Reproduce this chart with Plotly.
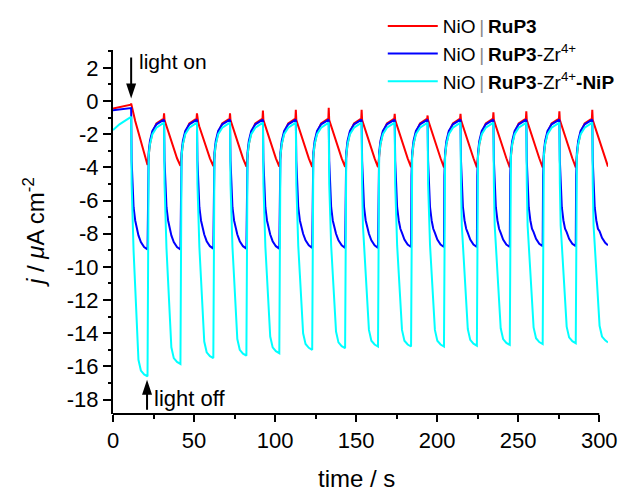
import plotly.graph_objects as go

# Chopped-light chronoamperometry: photocurrent density vs time
time_s = [
    0.0, 4.0, 8.0, 11.0,
    11.2, 11.5, 12.0, 12.7, 13.7, 14.7, 15.7, 17.2, 19.2, 21.3, 21.55, 22.0, 22.8, 24.3, 26.8, 31.25,
    31.5, 31.8, 32.3, 33.0, 34.0, 35.0, 36.0, 37.5, 39.5, 41.6, 41.85, 42.3, 43.1, 44.6, 47.1, 51.55,
    51.8, 52.1, 52.6, 53.3, 54.3, 55.3, 56.3, 57.8, 59.8, 61.9, 62.15, 62.6, 63.4, 64.9, 67.4, 71.95,
    72.2, 72.5, 73.0, 73.7, 74.7, 75.7, 76.7, 78.2, 80.2, 82.3, 82.55, 83.0, 83.8, 85.3, 87.8, 92.25,
    92.5, 92.8, 93.3, 94.0, 95.0, 96.0, 97.0, 98.5, 100.5, 102.6, 102.85, 103.3, 104.1, 105.6, 108.1, 112.55,
    112.8, 113.1, 113.6, 114.3, 115.3, 116.3, 117.3, 118.8, 120.8, 122.9, 123.15, 123.6, 124.4, 125.9, 128.4, 132.85,
    133.1, 133.4, 133.9, 134.6, 135.6, 136.6, 137.6, 139.1, 141.1, 143.2, 143.45, 143.9, 144.7, 146.2, 148.7, 153.15,
    153.4, 153.7, 154.2, 154.9, 155.9, 156.9, 157.9, 159.4, 161.4, 163.5, 163.75, 164.2, 165.0, 166.5, 169.0, 173.55,
    173.8, 174.1, 174.6, 175.3, 176.3, 177.3, 178.3, 179.8, 181.8, 183.9, 184.15, 184.6, 185.4, 186.9, 189.4, 193.85,
    194.1, 194.4, 194.9, 195.6, 196.6, 197.6, 198.6, 200.1, 202.1, 204.2, 204.45, 204.9, 205.7, 207.2, 209.7, 214.15,
    214.4, 214.7, 215.2, 215.9, 216.9, 217.9, 218.9, 220.4, 222.4, 224.5, 224.75, 225.2, 226.0, 227.5, 230.0, 234.45,
    234.7, 235.0, 235.5, 236.2, 237.2, 238.2, 239.2, 240.7, 242.7, 244.8, 245.05, 245.5, 246.3, 247.8, 250.3, 254.75,
    255.0, 255.3, 255.8, 256.5, 257.5, 258.5, 259.5, 261.0, 263.0, 265.1, 265.35, 265.8, 266.6, 268.1, 270.6, 275.15,
    275.4, 275.7, 276.2, 276.9, 277.9, 278.9, 279.9, 281.4, 283.4, 285.5, 285.75, 286.2, 287.0, 288.5, 291.0, 295.45,
    295.7, 296.0, 296.5, 297.2, 298.2, 299.2, 300.2, 301.7, 303.7, 305.4,
]

# NiO | RuP3
j_rup3 = [
    -0.45, -0.38, -0.3, -0.22,
    -0.15, -0.3, -0.5, -0.8, -1.2, -1.55, -1.9, -2.5, -3.2, -3.85, -3.7, -3.3, -2.6, -1.9, -1.35, -1.05,
    -0.74, -1.15, -1.3, -1.55, -1.85, -2.2, -2.5, -2.95, -3.45, -3.9, -3.75, -3.3, -2.6, -1.9, -1.35, -1.05,
    -0.74, -1.15, -1.3, -1.55, -1.85, -2.2, -2.5, -2.95, -3.45, -3.92, -3.75, -3.3, -2.6, -1.9, -1.35, -1.05,
    -0.74, -1.15, -1.3, -1.55, -1.85, -2.2, -2.5, -2.95, -3.45, -3.95, -3.75, -3.3, -2.6, -1.9, -1.35, -1.05,
    -0.57, -1.15, -1.3, -1.55, -1.85, -2.2, -2.5, -2.95, -3.45, -3.95, -3.75, -3.3, -2.6, -1.9, -1.35, -1.05,
    -0.53, -1.15, -1.3, -1.55, -1.85, -2.2, -2.5, -2.95, -3.45, -3.97, -3.75, -3.3, -2.6, -1.9, -1.35, -1.05,
    -0.41, -1.15, -1.3, -1.55, -1.85, -2.2, -2.5, -2.95, -3.45, -3.97, -3.75, -3.3, -2.6, -1.9, -1.35, -1.05,
    -0.53, -1.15, -1.3, -1.55, -1.85, -2.2, -2.5, -2.95, -3.45, -3.98, -3.75, -3.3, -2.6, -1.9, -1.35, -1.05,
    -0.77, -1.15, -1.3, -1.55, -1.85, -2.2, -2.5, -2.95, -3.45, -3.98, -3.75, -3.3, -2.6, -1.9, -1.35, -1.05,
    -0.87, -1.15, -1.3, -1.55, -1.85, -2.2, -2.5, -2.95, -3.45, -4.0, -3.75, -3.3, -2.6, -1.9, -1.35, -1.05,
    -0.77, -1.15, -1.3, -1.55, -1.85, -2.2, -2.5, -2.95, -3.45, -4.0, -3.75, -3.3, -2.6, -1.9, -1.35, -1.05,
    -0.67, -1.15, -1.3, -1.55, -1.85, -2.2, -2.5, -2.95, -3.45, -4.0, -3.75, -3.3, -2.6, -1.9, -1.35, -1.05,
    -0.61, -1.15, -1.3, -1.55, -1.85, -2.2, -2.5, -2.95, -3.45, -4.0, -3.75, -3.3, -2.6, -1.9, -1.35, -1.05,
    -0.61, -1.15, -1.3, -1.55, -1.85, -2.2, -2.5, -2.95, -3.45, -4.0, -3.75, -3.3, -2.6, -1.9, -1.35, -1.05,
    -0.53, -1.15, -1.3, -1.55, -1.85, -2.2, -2.5, -2.95, -3.45, -3.95,
]

# NiO | RuP3-Zr4+
j_rup3_zr = [
    -0.55, -0.5, -0.46, -0.43,
    -0.42, -3.6, -5.3, -6.4, -7.2, -7.7, -8.1, -8.5, -8.8, -8.95, -4.5, -3.1, -2.4, -1.8, -1.4, -1.15,
    -1.12, -3.6, -5.3, -6.4, -7.2, -7.7, -8.1, -8.5, -8.8, -8.95, -4.5, -3.1, -2.4, -1.8, -1.4, -1.15,
    -1.12, -3.6, -5.3, -6.4, -7.2, -7.7, -8.05, -8.45, -8.75, -8.9, -4.5, -3.1, -2.4, -1.8, -1.4, -1.15,
    -1.12, -3.6, -5.3, -6.4, -7.2, -7.7, -8.05, -8.45, -8.75, -8.9, -4.5, -3.1, -2.4, -1.8, -1.4, -1.15,
    -1.12, -3.6, -5.3, -6.4, -7.2, -7.7, -8.05, -8.45, -8.75, -8.9, -4.5, -3.1, -2.4, -1.8, -1.4, -1.15,
    -1.12, -3.6, -5.3, -6.4, -7.2, -7.7, -8.0, -8.4, -8.7, -8.85, -4.5, -3.1, -2.4, -1.8, -1.4, -1.15,
    -1.12, -3.6, -5.3, -6.4, -7.2, -7.7, -8.0, -8.4, -8.7, -8.85, -4.5, -3.1, -2.4, -1.8, -1.4, -1.15,
    -1.12, -3.6, -5.3, -6.4, -7.2, -7.7, -8.0, -8.4, -8.7, -8.85, -4.5, -3.1, -2.4, -1.8, -1.4, -1.15,
    -1.12, -3.6, -5.3, -6.4, -7.2, -7.7, -7.95, -8.35, -8.65, -8.8, -4.5, -3.1, -2.4, -1.8, -1.4, -1.15,
    -1.12, -3.6, -5.3, -6.4, -7.2, -7.7, -7.95, -8.35, -8.65, -8.8, -4.5, -3.1, -2.4, -1.8, -1.4, -1.15,
    -1.12, -3.6, -5.3, -6.4, -7.2, -7.7, -7.95, -8.35, -8.65, -8.8, -4.5, -3.1, -2.4, -1.8, -1.4, -1.15,
    -1.12, -3.6, -5.3, -6.4, -7.2, -7.7, -7.95, -8.35, -8.65, -8.8, -4.5, -3.1, -2.4, -1.8, -1.4, -1.15,
    -1.12, -3.6, -5.3, -6.4, -7.2, -7.7, -7.9, -8.3, -8.6, -8.75, -4.5, -3.1, -2.4, -1.8, -1.4, -1.15,
    -1.12, -3.6, -5.3, -6.4, -7.2, -7.7, -7.9, -8.3, -8.6, -8.75, -4.5, -3.1, -2.4, -1.8, -1.4, -1.15,
    -1.12, -3.6, -5.3, -6.4, -7.2, -7.7, -7.85, -8.25, -8.55, -8.7,
]

# NiO | RuP3-Zr4+-NiP
j_rup3_zr_nip = [
    -1.75, -1.4, -1.15, -0.97,
    -0.95, -5.0, -7.5, -9.03, -11.22, -13.41, -15.6, -16.25, -16.48, -16.6, -4.8, -3.3, -2.6, -2.0, -1.6, -1.32,
    -1.3, -5.0, -7.5, -8.89, -10.87, -12.87, -14.85, -15.5, -15.73, -15.85, -4.8, -3.3, -2.6, -2.0, -1.6, -1.32,
    -1.3, -5.0, -7.5, -8.82, -10.71, -12.61, -14.5, -15.15, -15.38, -15.5, -4.8, -3.3, -2.6, -2.0, -1.6, -1.32,
    -1.3, -5.0, -7.5, -8.79, -10.64, -12.5, -14.35, -15.0, -15.23, -15.35, -4.8, -3.3, -2.6, -2.0, -1.6, -1.32,
    -1.3, -5.0, -7.5, -8.77, -10.58, -12.39, -14.2, -14.85, -15.08, -15.2, -4.8, -3.3, -2.6, -2.0, -1.6, -1.32,
    -1.3, -5.0, -7.5, -8.73, -10.48, -12.25, -14.0, -14.65, -14.88, -15.0, -4.8, -3.3, -2.6, -2.0, -1.6, -1.32,
    -1.3, -5.0, -7.5, -8.71, -10.44, -12.17, -13.9, -14.55, -14.78, -14.9, -4.8, -3.3, -2.6, -2.0, -1.6, -1.32,
    -1.3, -5.0, -7.5, -8.69, -10.39, -12.1, -13.8, -14.45, -14.68, -14.8, -4.8, -3.3, -2.6, -2.0, -1.6, -1.32,
    -1.3, -5.0, -7.5, -8.69, -10.39, -12.1, -13.8, -14.45, -14.68, -14.8, -4.8, -3.3, -2.6, -2.0, -1.6, -1.32,
    -1.3, -5.0, -7.5, -8.69, -10.39, -12.1, -13.8, -14.45, -14.68, -14.8, -4.8, -3.3, -2.6, -2.0, -1.6, -1.32,
    -1.3, -5.0, -7.5, -8.68, -10.37, -12.06, -13.75, -14.4, -14.63, -14.75, -4.8, -3.3, -2.6, -2.0, -1.6, -1.32,
    -1.3, -5.0, -7.5, -8.67, -10.35, -12.03, -13.7, -14.35, -14.58, -14.7, -4.8, -3.3, -2.6, -2.0, -1.6, -1.32,
    -1.3, -5.0, -7.5, -8.66, -10.32, -11.99, -13.65, -14.3, -14.53, -14.65, -4.8, -3.3, -2.6, -2.0, -1.6, -1.32,
    -1.3, -5.0, -7.5, -8.65, -10.3, -11.95, -13.6, -14.25, -14.48, -14.6, -4.8, -3.3, -2.6, -2.0, -1.6, -1.32,
    -1.3, -5.0, -7.5, -8.64, -10.28, -11.92, -13.55, -14.2, -14.43, -14.55,
]

SEP = "\u2009<span style='color:#8a8a8a'>|</span>\u2009"
series_names = [
    "NiO" + SEP + "<b>RuP3</b>",
    "NiO" + SEP + "<b>RuP3</b>-Zr<sup>4+</sup>",
    "NiO" + SEP + "<b>RuP3</b>-Zr<sup>4+</sup><b>-NiP</b>",
]
series_colors = ["#ff0000", "#0000ff", "#00ffff"]

y_major = [-18, -16, -14, -12, -10, -8, -6, -4, -2, 0, 2]
y_major_text = ["-18", "-16", "-14", "-12", "-10", "-8", "-6", "-4", "-2", "0", "2"]
y_minor = [-17, -15, -13, -11, -9, -7, -5, -3, -1, 1, 3]
x_major = [0, 50, 100, 150, 200, 250, 300]
x_minor = [25, 75, 125, 175, 225, 275]

FONT = "Liberation Sans, Arial, sans-serif"
X_RANGE = [0, 305.4]
Y_RANGE = [-18.87, 3.08]

fig = go.Figure()
for i, (ys, name, color) in enumerate(zip([j_rup3, j_rup3_zr, j_rup3_zr_nip],
                                          series_names, series_colors)):
    fig.add_trace(go.Scatter(x=time_s, y=ys, mode="lines", name=name,
                             legendgroup=f"g{i}",
                             line=dict(color=color, width=2)))

# empty placeholders so the overlay axes holding the minor ticks get drawn
fig.add_trace(go.Scatter(x=[None], y=[None], xaxis="x2", yaxis="y",
                         showlegend=False, hoverinfo="skip"))
fig.add_trace(go.Scatter(x=[None], y=[None], xaxis="x", yaxis="y2",
                         showlegend=False, hoverinfo="skip"))

fig.update_layout(
    width=633, height=493,
    margin=dict(l=113, r=25, t=50, b=79, autoexpand=False),
    paper_bgcolor="white", plot_bgcolor="white",
    font=dict(family=FONT, color="black"),
    showlegend=True,
    legend=dict(x=0.545, y=1.118, xanchor="left", yanchor="top",
                bgcolor="rgba(0,0,0,0)", font=dict(size=19, family=FONT),
                itemwidth=50, tracegroupgap=0),
    xaxis=dict(
        range=X_RANGE, showgrid=False, zeroline=False, showline=False,
        tickmode="array", tickvals=x_major, ticktext=[str(v) for v in x_major],
        ticks="outside", ticklen=7, tickwidth=2, tickcolor="black",
        tickfont=dict(size=22, family=FONT),
    ),
    yaxis=dict(
        range=Y_RANGE, showgrid=False, zeroline=False,
        showline=True, linewidth=2, linecolor="black",
        tickmode="array", tickvals=y_major, ticktext=y_major_text,
        ticks="outside", ticklen=8, tickwidth=2, tickcolor="black",
        tickfont=dict(size=22, family=FONT),
    ),
    # overlay axes that carry only the short minor ticks
    xaxis2=dict(overlaying="x", anchor="y", side="bottom", range=X_RANGE,
                tickmode="array", tickvals=x_minor, ticks="outside",
                ticklen=4, tickwidth=2, tickcolor="black",
                showticklabels=False, showgrid=False, zeroline=False, showline=False),
    yaxis2=dict(overlaying="y", anchor="x", side="left", range=Y_RANGE,
                tickmode="array", tickvals=y_minor, ticks="outside",
                ticklen=4, tickwidth=2, tickcolor="black",
                showticklabels=False, showgrid=False, zeroline=False, showline=False),
)

# bottom axis line spans only the labelled 0-300 s interval
fig.add_shape(type="line", xref="x", yref="paper", x0=-1.2, x1=300, y0=0, y1=0,
              line=dict(color="black", width=2))

# axis titles
fig.add_annotation(text="time / s", xref="x", yref="paper", x=150, y=0,
                   yshift=-64, showarrow=False, font=dict(size=24, family=FONT),
                   xanchor="center", yanchor="middle")
fig.add_annotation(text="<i>j</i> / <i>\u03bc</i>A cm<sup>-2</sup>", xref="paper", yref="paper",
                   x=0, y=0.5, xshift=-79, textangle=-90, showarrow=False,
                   font=dict(size=24, family=FONT), xanchor="center", yanchor="middle")

# light on / light off arrows (pixel-sized, anchored at the switching points)
fig.add_shape(type="path", xref="x", yref="y", xsizemode="pixel", ysizemode="pixel",
              xanchor=11.2, yanchor=0.15,
              path="M0,0 L-5,15 L-1,15 L-1,41 L1,41 L1,15 L5,15 Z",
              fillcolor="black", line=dict(width=0))
fig.add_shape(type="path", xref="x", yref="y", xsizemode="pixel", ysizemode="pixel",
              xanchor=21.0, yanchor=-16.8,
              path="M0,0 L-5,-15 L-1,-15 L-1,-30 L1,-30 L1,-15 L5,-15 Z",
              fillcolor="black", line=dict(width=0))
fig.add_annotation(x=15.0, y=2.38, xref="x", yref="y", text="light on", showarrow=False,
                   xanchor="left", yanchor="middle", font=dict(size=21, family=FONT))
fig.add_annotation(x=24.0, y=-17.94, xref="x", yref="y", text="light off", showarrow=False,
                   xanchor="left", yanchor="middle", font=dict(size=22, family=FONT))

fig.write_html("out.html")
